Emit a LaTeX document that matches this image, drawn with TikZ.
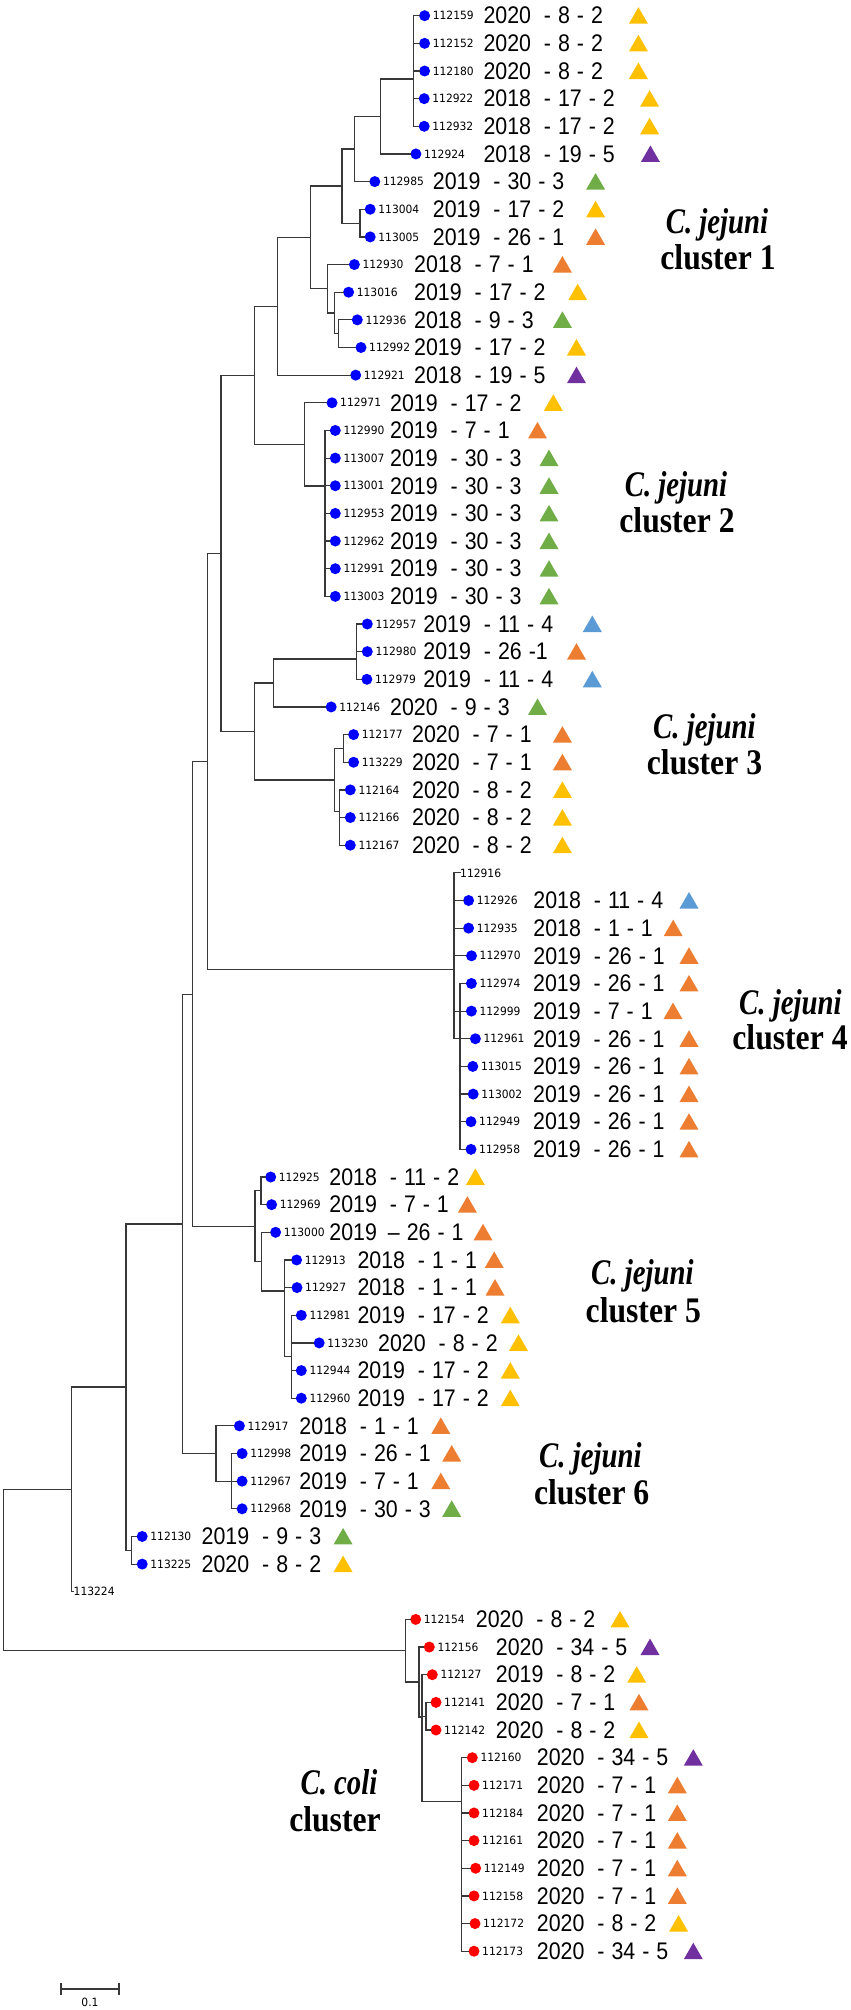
\documentclass[tikz,border=0pt]{standalone}
\usepackage{fontspec}
\newfontfamily\dtfam[FakeStretch=0.89]{Liberation Sans}
\newfontfamily\idfam[FakeStretch=0.94]{DejaVu Sans}
\newfontfamily\clfam[FakeStretch=0.88]{Liberation Serif}
\newfontfamily\clifam[FakeStretch=0.8]{Liberation Serif}
\definecolor{cY}{HTML}{FFC000}
\definecolor{cO}{HTML}{ED7D31}
\definecolor{cG}{HTML}{70AD47}
\definecolor{cB}{HTML}{5B9BD5}
\definecolor{cP}{HTML}{7030A0}
\tikzset{
 br/.style={line width=1.2pt, draw=black!78, line cap=rect},
 dotB/.style={circle, fill=blue, inner sep=0pt, minimum size=11pt},
 dotR/.style={circle, fill=red, inner sep=0pt, minimum size=11pt},
 idtxt/.style={anchor=west, inner sep=0pt, font={\idfam\fontsize{11.4}{13}\selectfont}},
 dttxt/.style={anchor=west, inner sep=0pt, font={\dtfam\fontsize{24}{28}\selectfont}},
 clI/.style={anchor=base, inner sep=0pt, font={\clifam\bfseries\itshape\fontsize{36}{40}\selectfont}},
 clB/.style={anchor=base, inner sep=0pt, font={\clfam\bfseries\fontsize{36}{40}\selectfont}},
}
\newcommand\mydt[3]{#1\hspace{13pt}-\hspace{7pt}#2\hspace{7pt}-\hspace{7pt}#3}
% id, row, dotx, dotstyle, textx, text, trix, tricolour
\newcommand\myleaf[8]{%
 \pgfmathsetmacro\yy{15.7+27.65*#2}%
 \node[#4] (d#1) at (#3,\yy) {};
 \node[idtxt] (i#1) at (#3+8,\yy) {#1};
 \node[dttxt] (b#1) at (#5-1,\yy) {#6};
 \fill[#8] (#7-9.5,\yy+8) -- (#7+9.5,\yy+8) -- (#7,\yy-8.5) -- cycle;
}
% parent, first child, last child, all children
\newcommand\kids[4]{%
 \draw[br] (#1 |- #2) -- (#1 |- #3);
 \foreach \c in {#4} {\draw[br] (#1 |- \c) -- (\c);}
}
\begin{document}
\begin{tikzpicture}[x=1pt,y=-1pt]
\useasboundingbox (0,0) rectangle (851,2010);
% ---- leaves ----
\myleaf{112159}{0}{424.6}{dotB}{484.3}{\mydt{2020}{8}{2}}{638.4}{cY}
\myleaf{112152}{1}{424.6}{dotB}{484.3}{\mydt{2020}{8}{2}}{638.4}{cY}
\myleaf{112180}{2}{424.6}{dotB}{484.3}{\mydt{2020}{8}{2}}{638.4}{cY}
\myleaf{112922}{3}{424.2}{dotB}{484.3}{\mydt{2018}{17}{2}}{649.6}{cY}
\myleaf{112932}{4}{424.2}{dotB}{484.3}{\mydt{2018}{17}{2}}{649.6}{cY}
\myleaf{112924}{5}{415.9}{dotB}{484.3}{\mydt{2018}{19}{5}}{650.4}{cP}
\myleaf{112985}{6}{374.8}{dotB}{433.7}{\mydt{2019}{30}{3}}{595.6}{cG}
\myleaf{113004}{7}{370.2}{dotB}{433.7}{\mydt{2019}{17}{2}}{595.6}{cY}
\myleaf{113005}{8}{370.2}{dotB}{433.7}{\mydt{2019}{26}{1}}{595.6}{cO}
\myleaf{112930}{9}{354.4}{dotB}{415}{\mydt{2018}{7}{1}}{562.4}{cO}
\myleaf{113016}{10}{348.6}{dotB}{415}{\mydt{2019}{17}{2}}{577.7}{cY}
\myleaf{112936}{11}{357.3}{dotB}{415}{\mydt{2018}{9}{3}}{562.4}{cG}
\myleaf{112992}{12}{361}{dotB}{415}{\mydt{2019}{17}{2}}{576.5}{cY}
\myleaf{112921}{13}{355.7}{dotB}{415}{\mydt{2018}{19}{5}}{576.5}{cP}
\myleaf{112971}{14}{332}{dotB}{391}{\mydt{2019}{17}{2}}{553.3}{cY}
\myleaf{112990}{15}{335.3}{dotB}{391}{\mydt{2019}{7}{1}}{537.5}{cO}
\myleaf{113007}{16}{335.3}{dotB}{391}{\mydt{2019}{30}{3}}{549}{cG}
\myleaf{113001}{17}{335.3}{dotB}{391}{\mydt{2019}{30}{3}}{549}{cG}
\myleaf{112953}{18}{335.3}{dotB}{391}{\mydt{2019}{30}{3}}{549}{cG}
\myleaf{112962}{19}{335.3}{dotB}{391}{\mydt{2019}{30}{3}}{549}{cG}
\myleaf{112991}{20}{335.3}{dotB}{391}{\mydt{2019}{30}{3}}{549}{cG}
\myleaf{113003}{21}{335.3}{dotB}{391}{\mydt{2019}{30}{3}}{549}{cG}
\myleaf{112957}{22}{367.3}{dotB}{424.2}{\mydt{2019}{11}{4}}{592.3}{cB}
\myleaf{112980}{23}{367.3}{dotB}{424.2}{2019\hspace{13pt}-\hspace{7pt}26\hspace{7pt}-1}{576.5}{cO}
\myleaf{112979}{24}{366.9}{dotB}{424.2}{\mydt{2019}{11}{4}}{592.3}{cB}
\myleaf{112146}{25}{331.2}{dotB}{391}{\mydt{2020}{9}{3}}{537.5}{cG}
\myleaf{112177}{26}{353.6}{dotB}{413}{\mydt{2020}{7}{1}}{562.4}{cO}
\myleaf{113229}{27}{353.6}{dotB}{413}{\mydt{2020}{7}{1}}{562.4}{cO}
\myleaf{112164}{28}{350.3}{dotB}{413}{\mydt{2020}{8}{2}}{562.4}{cY}
\myleaf{112166}{29}{350.3}{dotB}{413}{\mydt{2020}{8}{2}}{562.4}{cY}
\myleaf{112167}{30}{350.3}{dotB}{413}{\mydt{2020}{8}{2}}{562.4}{cY}
\node[idtxt] (t112916) at (460,872.85) {112916};
\myleaf{112926}{32}{468.6}{dotB}{534.2}{\mydt{2018}{11}{4}}{689}{cB}
\myleaf{112935}{33}{468.6}{dotB}{534.2}{\mydt{2018}{1}{1}}{673.2}{cO}
\myleaf{112970}{34}{471.5}{dotB}{534.2}{\mydt{2019}{26}{1}}{689}{cO}
\myleaf{112974}{35}{471.4}{dotB}{534}{\mydt{2019}{26}{1}}{689}{cO}
\myleaf{112999}{36}{471.4}{dotB}{534}{\mydt{2019}{7}{1}}{673}{cO}
\myleaf{112961}{37}{475.4}{dotB}{534}{\mydt{2019}{26}{1}}{689}{cO}
\myleaf{113015}{38}{472.8}{dotB}{534}{\mydt{2019}{26}{1}}{689}{cO}
\myleaf{113002}{39}{473.2}{dotB}{534}{\mydt{2019}{26}{1}}{689}{cO}
\myleaf{112949}{40}{471}{dotB}{534}{\mydt{2019}{26}{1}}{689}{cO}
\myleaf{112958}{41}{471}{dotB}{534}{\mydt{2019}{26}{1}}{689}{cO}
\myleaf{112925}{42}{270.7}{dotB}{330.2}{\mydt{2018}{11}{2}}{475.4}{cY}
\myleaf{112969}{43}{271.6}{dotB}{330.2}{\mydt{2019}{7}{1}}{467.4}{cO}
\myleaf{113000}{44}{275.6}{dotB}{330.2}{2019\hspace{11pt}–\hspace{7pt}26\hspace{7pt}-\hspace{7pt}1}{483}{cO}
\myleaf{112913}{45}{296.6}{dotB}{358.3}{\mydt{2018}{1}{1}}{494.2}{cO}
\myleaf{112927}{46}{297}{dotB}{358.3}{\mydt{2018}{1}{1}}{495}{cO}
\myleaf{112981}{47}{301.3}{dotB}{358.3}{\mydt{2019}{17}{2}}{510.3}{cY}
\myleaf{113230}{48}{319.2}{dotB}{379}{\mydt{2020}{8}{2}}{518.5}{cY}
\myleaf{112944}{49}{301.3}{dotB}{358.3}{\mydt{2019}{17}{2}}{510.3}{cY}
\myleaf{112960}{50}{301.3}{dotB}{358.3}{\mydt{2019}{17}{2}}{510.3}{cY}
\myleaf{112917}{51}{239.4}{dotB}{300.2}{\mydt{2018}{1}{1}}{440.8}{cO}
\myleaf{112998}{52}{242.1}{dotB}{300.2}{\mydt{2019}{26}{1}}{451.7}{cO}
\myleaf{112967}{53}{242.1}{dotB}{300.2}{\mydt{2019}{7}{1}}{440.8}{cO}
\myleaf{112968}{54}{242.1}{dotB}{300.2}{\mydt{2019}{30}{3}}{451.7}{cG}
\myleaf{112130}{55}{142.2}{dotB}{202.5}{\mydt{2019}{9}{3}}{343.1}{cG}
\myleaf{113225}{56}{142.2}{dotB}{202.5}{\mydt{2020}{8}{2}}{343.1}{cY}
\node[idtxt] (t113224) at (73.5,1591.75) {113224};
\myleaf{112154}{58}{415.7}{dotR}{476.7}{\mydt{2020}{8}{2}}{620}{cY}
\myleaf{112156}{59}{429.3}{dotR}{496.7}{\mydt{2020}{34}{5}}{650}{cP}
\myleaf{112127}{60}{432.3}{dotR}{496.7}{\mydt{2019}{8}{2}}{636.7}{cY}
\myleaf{112141}{61}{436}{dotR}{496.7}{\mydt{2020}{7}{1}}{639}{cO}
\myleaf{112142}{62}{436}{dotR}{496.7}{\mydt{2020}{8}{2}}{639}{cY}
\myleaf{112160}{63}{472.3}{dotR}{537.7}{\mydt{2020}{34}{5}}{693.3}{cP}
\myleaf{112171}{64}{474}{dotR}{537.7}{\mydt{2020}{7}{1}}{677.3}{cO}
\myleaf{112184}{65}{474}{dotR}{537.7}{\mydt{2020}{7}{1}}{677.3}{cO}
\myleaf{112161}{66}{474}{dotR}{537.7}{\mydt{2020}{7}{1}}{677.3}{cO}
\myleaf{112149}{67}{475.6}{dotR}{537.7}{\mydt{2020}{7}{1}}{677.3}{cO}
\myleaf{112158}{68}{474}{dotR}{537.7}{\mydt{2020}{7}{1}}{677.3}{cO}
\myleaf{112172}{69}{475}{dotR}{537.7}{\mydt{2020}{8}{2}}{678.6}{cY}
\myleaf{112173}{70}{474}{dotR}{537.7}{\mydt{2020}{34}{5}}{693.3}{cP}
% ---- internal nodes ----
\coordinate (TC) at (413.3,79);
\coordinate (A1) at (380.6,116.5);
\coordinate (A2) at (354.4,149);
\coordinate (A4) at (360,223.1);
\coordinate (A3) at (342,186);
\coordinate (B3) at (338.3,333.7);
\coordinate (B2) at (334.3,313);
\coordinate (B) at (327.7,288.8);
\coordinate (A5) at (310.7,237.4);
\coordinate (A6) at (277.7,306.3);
\coordinate (C2a) at (325,486);
\coordinate (C2) at (304.3,444.4);
\coordinate (C1) at (254.3,375.35);
\coordinate (G) at (356.7,659);
\coordinate (F) at (273.3,683);
\coordinate (Ha) at (343.3,748.4);
\coordinate (Hb) at (339.3,811.7);
\coordinate (H) at (334.3,780);
\coordinate (E) at (254.3,731.5);
\coordinate (D) at (221,553.4);
\coordinate (J) at (454,969.5);
\coordinate (J3) at (460,1011.1);
\coordinate (I) at (207.3,761.5);
\coordinate (La) at (261,1190.8);
\coordinate (O) at (291.7,1356.7);
\coordinate (N) at (284.3,1291);
\coordinate (M) at (261.7,1261.7);
\coordinate (L) at (255,1226.25);
\coordinate (K) at (192.7,994.1);
\coordinate (Za) at (231.7,1481.15);
\coordinate (Z) at (216,1453.5);
\coordinate (P) at (182.7,1224);
\coordinate (X) at (131.7,1550.3);
\coordinate (Q) at (126,1387);
\coordinate (R) at (71.7,1489.4);
\coordinate (V2) at (426,1716.2);
\coordinate (W) at (461.7,1801.7);
\coordinate (V) at (422,1717);
\coordinate (U) at (419,1682);
\coordinate (T) at (405.7,1650.5);
\coordinate (S) at (3.3,1570);
% ---- branches ----
\kids{TC}{d112159}{d112932}{d112159,d112152,d112180,d112922,d112932}
\kids{A1}{TC}{d112924}{TC,d112924}
\kids{A2}{A1}{d112985}{A1,d112985}
\kids{A4}{d113004}{d113005}{d113004,d113005}
\kids{A3}{A2}{A4}{A2,A4}
\kids{B3}{d112936}{d112992}{d112936,d112992}
\kids{B2}{d113016}{B3}{d113016,B3}
\kids{B}{d112930}{B2}{d112930,B2}
\kids{A5}{A3}{B}{A3,B}
\kids{A6}{A5}{d112921}{A5,d112921}
\kids{C2a}{d112990}{d113003}{d112990,d113007,d113001,d112953,d112962,d112991,d113003}
\kids{C2}{d112971}{C2a}{d112971,C2a}
\kids{C1}{A6}{C2}{A6,C2}
\kids{G}{d112957}{d112979}{d112957,d112980,d112979}
\kids{F}{G}{d112146}{G,d112146}
\kids{Ha}{d112177}{d113229}{d112177,d113229}
\kids{Hb}{d112164}{d112167}{d112164,d112166,d112167}
\kids{H}{Ha}{Hb}{Ha,Hb}
\kids{E}{F}{H}{F,H}
\kids{D}{C1}{E}{C1,E}
\kids{J3}{d112974}{d112958}{d112974,d112999,d113015,d113002,d112949,d112958}
\kids{J}{t112916}{d112961}{t112916,d112926,d112935,d112970,d112961,J3}
\kids{I}{D}{J}{D,J}
\kids{La}{d112925}{d112969}{d112925,d112969}
\kids{O}{d112981}{d112960}{d112981,d113230,d112944,d112960}
\kids{N}{d112913}{O}{d112913,d112927,O}
\kids{M}{d113000}{N}{d113000,N}
\kids{L}{La}{M}{La,M}
\kids{K}{I}{L}{I,L}
\kids{Za}{d112998}{d112968}{d112998,d112967,d112968}
\kids{Z}{d112917}{Za}{d112917,Za}
\kids{P}{K}{Z}{K,Z}
\kids{X}{d112130}{d113225}{d112130,d113225}
\kids{Q}{P}{X}{P,X}
\kids{R}{Q}{t113224}{Q,t113224}
\kids{V2}{d112141}{d112142}{d112141,d112142}
\kids{W}{d112160}{d112173}{d112160,d112171,d112184,d112161,d112149,d112158,d112172,d112173}
\kids{V}{d112127}{W}{d112127,V2,W}
\kids{U}{d112156}{V}{d112156,V}
\kids{T}{d112154}{U}{d112154,U}
\kids{S}{R}{T}{R,T}
% ---- cluster labels ----
\node[clI] (c1a) at (717,233.3) {C. jejuni};
\node[clB] (c1b) at (718,269.3) {cluster 1};
\node[clI] (c2a) at (676,496) {C. jejuni};
\node[clB] (c2b) at (677,532.7) {cluster 2};
\node[clI] (c3a) at (704.4,738.6) {C. jejuni};
\node[clB] (c3b) at (704.5,774.3) {cluster 3};
\node[clI] (c4a) at (790.4,1014.3) {C. jejuni};
\node[clB] (c4b) at (790,1049) {cluster 4};
\node[clI] (c5a) at (642.4,1284.3) {C. jejuni};
\node[clB] (c5b) at (643.3,1322.7) {cluster 5};
\node[clI] (c6a) at (590.4,1467.6) {C. jejuni};
\node[clB] (c6b) at (591.7,1504.3) {cluster 6};
\node[clI] (cca) at (339,1794.3) {C. coli};
\node[clB] (ccb) at (335,1831) {cluster};
% ---- scale bar ----
\coordinate (sbL) at (61,1989);
\coordinate (sbR) at (119,1989);
\draw[br] (sbL) -- (sbR);
\draw[br] ([yshift=5pt]sbL) -- ([yshift=-5pt]sbL);
\draw[br] ([yshift=5pt]sbR) -- ([yshift=-5pt]sbR);
\node[idtxt, anchor=center] (sbt) at (90,2002.5) {0.1};
\end{tikzpicture}
\end{document}
